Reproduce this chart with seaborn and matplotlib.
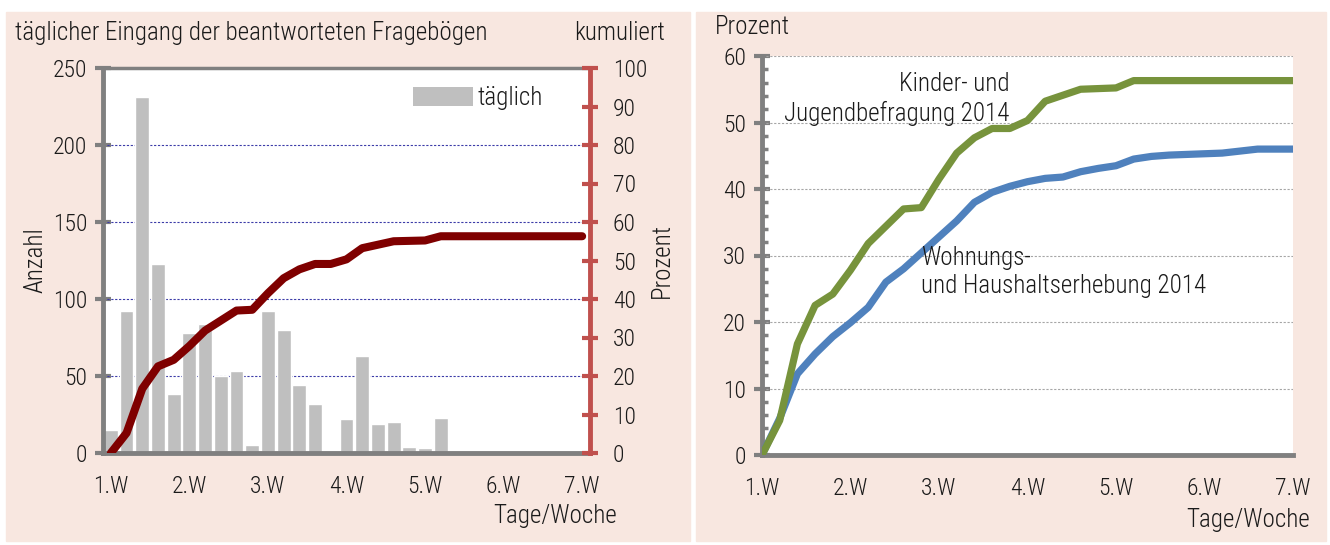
import numpy as np
import pandas as pd
import matplotlib
matplotlib.use("Agg")
import matplotlib.pyplot as plt
import seaborn as sns
from matplotlib import font_manager
from matplotlib.patches import Patch, Rectangle
from matplotlib.ticker import MultipleLocator, FixedLocator

# Werktage (5 pro Woche), 1.W bis 7.W
tage = list(range(31))
wochen_labels = ["1.W", "2.W", "3.W", "4.W", "5.W", "6.W", "7.W"]

# täglicher Eingang (Anzahl)
taeglich = [15, 92, 231, 123, 38, 78, 84, 50, 53, 5,
            92, 80, 44, 32, 1, 22, 63, 19, 20, 4,
            3, 23, 0, 0, 0, 0, 0, 0, 0, 0, 0]

# kumuliert in Prozent - Kinder- und Jugendbefragung 2014
kinder_kum = [0, 5.2, 16.7, 22.5, 24.2, 27.8, 31.8, 34.4, 37.0, 37.2,
              41.5, 45.4, 47.7, 49.1, 49.1, 50.3, 53.2, 54.1, 55.0, 55.1,
              55.2, 56.3, 56.3, 56.3, 56.3, 56.3, 56.3, 56.3, 56.3, 56.3, 56.3]

# kumuliert in Prozent - Wohnungs- und Haushaltserhebung 2014
wohnen_kum = [0, 5.5, 12.2, 15.2, 17.8, 19.9, 22.2, 26.0, 28.0, 30.4,
              32.8, 35.2, 38.0, 39.5, 40.4, 41.1, 41.6, 41.8, 42.6, 43.1,
              43.5, 44.5, 44.9, 45.1, 45.2, 45.3, 45.4, 45.7, 46.0, 46.0, 46.0]

sns.set_theme(style="white")

# schmale Schrift suchen, falls vorhanden
fonts = [(f.name, f.stretch) for f in font_manager.fontManager.ttflist]
namen = {n for n, _ in fonts}
schrift, stretch, fs = "Lato", "normal", 15.5
for kandidat in ["Roboto Condensed", "Liberation Sans Narrow", "Open Sans Condensed",
                 "Noto Sans Condensed", "Fira Sans Condensed"]:
    if kandidat in namen:
        schrift, fs = kandidat, 17
        break
else:
    if ("DejaVu Sans", "condensed") in fonts or ("DejaVu Sans", "semi-condensed") in fonts:
        schrift, stretch, fs = "DejaVu Sans", "condensed", 15
plt.rcParams["font.family"] = [schrift, "DejaVu Sans"]
plt.rcParams["font.stretch"] = stretch
plt.rcParams["font.weight"] = "light"
plt.rcParams["axes.labelweight"] = "light"
plt.rcParams["font.size"] = fs
plt.rcParams["text.color"] = "#1a1a1a"
plt.rcParams["axes.labelcolor"] = "#1a1a1a"

W, H = 1330, 545
fig = plt.figure(figsize=(W / 100, H / 100), dpi=100)
fig.patch.set_facecolor("white")

def px(x0, y0, x1, y1):
    return [x0 / W, 1 - y1 / H, (x1 - x0) / W, (y1 - y0) / H]

# Hintergrund der beiden Felder
bg = "#F8E7E0"
fig.patches.append(Rectangle((6 / W, 1 - 541 / H), 684 / W, 529 / H,
                             transform=fig.transFigure, color=bg, zorder=-5))
fig.patches.append(Rectangle((696 / W, 1 - 541 / H), 630 / W, 529 / H,
                             transform=fig.transFigure, color=bg, zorder=-5))

grau = "#808080"
rot = "#C0504D"
tick_col = "#1a1a1a"

# ---------------- linkes Diagramm ----------------
ax = fig.add_axes(px(103, 68, 590, 453))
ax.set_facecolor("white")
df = pd.DataFrame({"tag": tage, "anzahl": taeglich})
sns.barplot(data=df, x="tag", y="anzahl", color="#BFBFBF", width=0.88,
            saturation=1, ax=ax, zorder=2)
ax.set_xlim(-0.5, 30.5)
ax.set_ylim(0, 250)
ax.set_yticks(range(0, 251, 50))
ax.set_xlabel("")
ax.set_ylabel("Anzahl", fontsize=fs + 1, labelpad=4)
for y in range(50, 250, 50):
    ax.axhline(y, color="#3C3CA8", lw=0.8, ls=(0, (2, 1.5)), zorder=1)

ax.xaxis.set_major_locator(FixedLocator(range(0, 31, 5)))
ax.set_xticklabels(wochen_labels)
ax.xaxis.set_minor_locator(FixedLocator(np.arange(-0.5, 31, 1)))
ax.tick_params(axis="x", which="major", length=0, pad=16, labelsize=fs, labelcolor=tick_col)
ax.tick_params(axis="x", which="minor", length=6, width=3.5, color=grau, direction="out")
ax.tick_params(axis="y", which="major", length=11, width=3, color=grau,
               direction="inout", pad=6, labelsize=fs, labelcolor=tick_col, left=True)
for s in ["left", "bottom", "top"]:
    ax.spines[s].set_color(grau)
ax.spines["left"].set_linewidth(3.5)
ax.spines["bottom"].set_linewidth(3.5)
ax.spines["top"].set_linewidth(2.5)
ax.spines["right"].set_visible(False)

ax2 = ax.twinx()
sns.lineplot(x=tage, y=kinder_kum, ax=ax2, color="#7F0000", lw=5.8,
             solid_capstyle="round", zorder=5)
ax2.set_ylim(0, 100)
ax2.set_xlim(-0.5, 30.5)
ax2.set_yticks(range(0, 101, 10))
ax2.tick_params(axis="y", length=11, width=3, color=rot, direction="inout",
                pad=11, labelsize=fs, labelcolor=tick_col, right=True)
ax2.set_ylabel("Prozent", fontsize=fs + 1, labelpad=2)
ax2.spines["right"].set_color(rot)
ax2.spines["right"].set_linewidth(3.5)
for s in ["left", "bottom", "top"]:
    ax2.spines[s].set_visible(False)

ax.legend(handles=[Patch(facecolor="#BFBFBF", edgecolor="none", label="täglich")],
          loc="upper left", bbox_to_anchor=(0.61, 0.985), frameon=False, borderpad=0,
          fontsize=fs + 1, handlelength=2.4, handleheight=0.8, handletextpad=0.2)

fig.text(15 / W, 1 - 33 / H, "täglicher Eingang der beantworteten Fragebögen",
         fontsize=fs + 1, va="center", ha="left")
fig.text(665 / W, 1 - 33 / H, "kumuliert", fontsize=fs + 1, va="center", ha="right")
fig.text(617 / W, 1 - 516 / H, "Tage/Woche", fontsize=fs + 1, va="center", ha="right")

# ---------------- rechtes Diagramm ----------------
bx = fig.add_axes(px(762, 56, 1293, 455))
bx.set_facecolor("white")
sns.lineplot(x=tage, y=wohnen_kum, ax=bx, color="#4F81BD", lw=5.2, zorder=3)
sns.lineplot(x=tage, y=kinder_kum, ax=bx, color="#77933C", lw=5.2, zorder=4)
bx.set_xlim(0, 30)
bx.set_ylim(0, 60)
bx.set_yticks(range(0, 61, 10))
bx.yaxis.set_minor_locator(MultipleLocator(2))
for y in range(10, 61, 10):
    bx.axhline(y, color="#A6A6A6", lw=0.8, ls=(0, (2, 1.5)), zorder=1)
bx.xaxis.set_major_locator(FixedLocator(range(0, 31, 5)))
bx.set_xticklabels(wochen_labels)
bx.xaxis.set_minor_locator(FixedLocator(range(0, 31)))
bx.tick_params(axis="x", which="major", length=0, pad=16, labelsize=fs, labelcolor=tick_col)
bx.tick_params(axis="x", which="minor", length=6, width=3.5, color=grau, direction="out")
bx.tick_params(axis="y", which="major", length=11, width=3, color=grau,
               direction="inout", pad=6, labelsize=fs, labelcolor=tick_col, left=True)
bx.tick_params(axis="y", which="minor", length=4, width=2.5, color=grau,
               direction="in", left=True)
bx.set_xlabel("")
bx.set_ylabel("")
bx.spines["left"].set_color(grau)
bx.spines["bottom"].set_color(grau)
bx.spines["left"].set_linewidth(3.5)
bx.spines["bottom"].set_linewidth(3.5)
bx.spines["top"].set_visible(False)
bx.spines["right"].set_visible(False)

fig.text(715 / W, 1 - 27 / H, "Prozent", fontsize=fs + 1, va="center", ha="left")
bx.text(14.0, 53.6, "Kinder- und\nJugendbefragung 2014", fontsize=fs + 1,
        ha="right", va="center", linespacing=1.25)
bx.text(9.0, 27.5, "Wohnungs-\nund Haushaltserhebung 2014", fontsize=fs + 1,
        ha="left", va="center", linespacing=1.25)
fig.text(1310 / W, 1 - 520 / H, "Tage/Woche", fontsize=fs + 1, va="center", ha="right")

fig.savefig("out.png", dpi=100, facecolor="white")
